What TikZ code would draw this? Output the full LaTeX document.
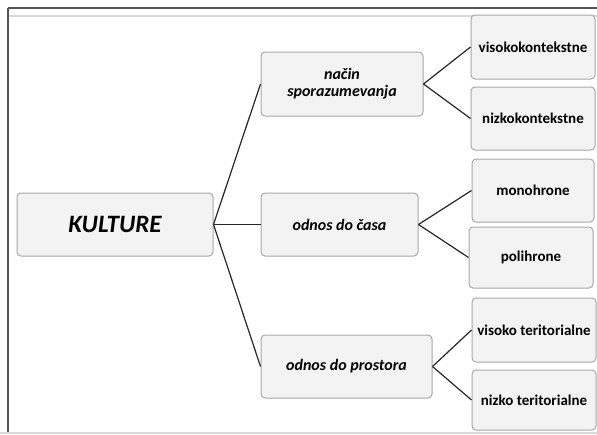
\documentclass[tikz,border=0pt]{standalone}
\usepackage{fontspec}
\setmainfont{Carlito}
\usepackage{tikz}

\definecolor{boxfill}{HTML}{F3F3F3}
\definecolor{boxline}{HTML}{A8A8A8}
\definecolor{frameline}{HTML}{555555}
\definecolor{framelight}{HTML}{D9D9D9}

\begin{document}
\begin{tikzpicture}[x=1pt, y=-1pt,
    box/.style={draw=boxline, fill=boxfill, rounded corners=4pt, line width=1pt, align=center, inner sep=0pt},
    root/.style={box, font=\fontsize{25}{28}\selectfont\bfseries\itshape},
    branch/.style={box, font=\fontsize{16}{17}\selectfont\bfseries\itshape},
    leaf/.style={box, font=\fontsize{15}{16}\selectfont\bfseries},
    link/.style={line width=1.2pt, draw=black!85}]
    \useasboundingbox (0,0) rectangle (597,434);

    % okvir
    \draw[frameline, line width=1.5pt] (8,8) -- (597,8);
    \draw[framelight, line width=1.5pt] (8,16) -- (597,16);
    \draw[frameline, line width=1.5pt] (8,8) -- (8,432);
    \draw[framelight, line width=2pt] (0,432.5) -- (597,432.5);

    \node[root, minimum width=196pt, minimum height=63pt] (kult) at (115,224.5) {KULTURE};

    \node[branch, minimum width=162pt, minimum height=64pt] (nacin) at (342,84) {način\\sporazumevanja};
    \node[branch, minimum width=157pt, minimum height=63pt] (cas) at (339.5,224.5) {odnos do časa};
    \node[branch, minimum width=171pt, minimum height=63pt] (prostor) at (346.5,366.5) {odnos do prostora};

    \node[leaf, minimum width=124pt, minimum height=64pt] (visokokont) at (533,47) {visokokontekstne};
    \node[leaf, minimum width=124pt, minimum height=63pt] (nizkokont) at (533,118.5) {nizkokontekstne};
    \node[leaf, minimum width=122pt, minimum height=63pt] (mono) at (533,190.5) {monohrone};
    \node[leaf, minimum width=124pt, minimum height=61pt] (poli) at (531,257.5) {polihrone};
    \node[leaf, minimum width=124pt, minimum height=64pt] (visokoter) at (534,330) {visoko teritorialne};
    \node[leaf, minimum width=124pt, minimum height=60pt] (nizkoter) at (534,400) {nizko teritorialne};

    % povezave
    \foreach \a in {nacin, cas, prostor}
        \draw[link] (kult.east) -- (\a.west);
    \draw[link] (nacin.east) -- (visokokont.west);
    \draw[link] (nacin.east) -- (nizkokont.west);
    \draw[link] (cas.east) -- (mono.west);
    \draw[link] (cas.east) -- (poli.west);
    \draw[link] (prostor.east) -- (visokoter.west);
    \draw[link] (prostor.east) -- (nizkoter.west);
\end{tikzpicture}
\end{document}
